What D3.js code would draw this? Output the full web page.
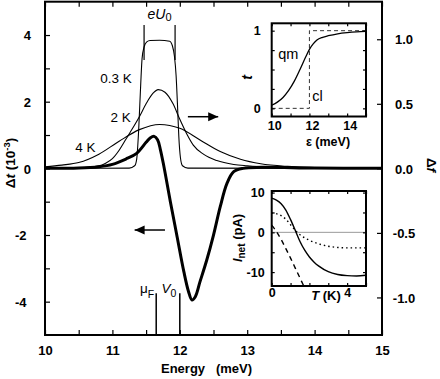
<!DOCTYPE html>
<html>
<head>
<meta charset="utf-8">
<script src="https://cdn.jsdelivr.net/npm/d3@7"></script>
<style>
    body { margin: 0; background: #fff; }
    svg text { font-family: "Liberation Sans", Arial, Helvetica, sans-serif; fill: #000; }
    .tick line { stroke: #000; stroke-width: 1.2; }
    .tick text { font-size: 13px; font-weight: bold; }
    .inset .tick text { font-size: 12.5px; }
</style>
</head>
<body>
<svg id="chart" width="440" height="379"></svg>
<script>
// ---- main panel: thin curves, delta f (right axis)
const energy03K = [10, 11.25, 11.33, 11.36, 11.39, 11.42, 11.44, 11.47, 11.51, 11.56, 11.7, 11.85, 11.89, 11.92, 11.945, 11.965, 11.985, 12.01, 12.04, 12.12, 15];
const df03K = [0, 0.002, 0.02, 0.07, 0.3, 0.65, 0.85, 0.94, 0.98, 0.99, 0.992, 0.985, 0.95, 0.87, 0.72, 0.5, 0.25, 0.08, 0.02, 0.002, 0];
const energy2K = [10, 10.5, 10.8, 10.9, 11.0, 11.1, 11.2, 11.3, 11.4, 11.5, 11.6, 11.68, 11.78, 11.9, 12.0, 12.1, 12.2, 12.35, 12.55, 12.8, 13.0, 13.5, 14, 15];
const df2K = [0.001, 0.005, 0.02, 0.04, 0.075, 0.14, 0.225, 0.31, 0.40, 0.50, 0.58, 0.61, 0.59, 0.50, 0.38, 0.27, 0.18, 0.11, 0.06, 0.03, 0.02, 0.008, 0.003, 0];
const energy4K = [10, 10.25, 10.5, 10.8, 11.1, 11.4, 11.7, 12.0, 12.3, 12.6, 12.9, 13.2, 13.6, 14, 14.5, 15];
const df4K = [0.012, 0.025, 0.045, 0.11, 0.21, 0.30, 0.34, 0.31, 0.22, 0.13, 0.07, 0.035, 0.015, 0.007, 0.003, 0.001];

// ---- main panel: thick curve, delta t (left axis, 10^-3)
const energyDt = [10, 10.5, 10.8, 11.0, 11.2, 11.36, 11.5, 11.56, 11.62, 11.67, 11.71, 11.76, 11.86, 11.96, 12.06, 12.13, 12.18, 12.23, 12.3, 12.4, 12.5, 12.6, 12.7, 12.8, 12.94, 13.2, 14, 15];
const deltaT = [0, 0.01, 0.05, 0.12, 0.28, 0.45, 0.78, 0.91, 0.96, 0.86, 0.58, 0.1, -1.0, -2.05, -3.1, -3.7, -3.95, -3.85, -3.4, -2.75, -2.0, -1.15, -0.45, -0.1, 0, 0.03, 0.01, 0];

// ---- marker energies
const eU0Edges = [11.47, 11.93];
const muF = 11.65;
const V0 = 12.0;

// ---- inset: transmission t(eps)
const epsQm = [10, 10.3, 10.6, 10.9, 11.2, 11.5, 11.8, 12.0, 12.2, 12.4, 12.7, 13.0, 13.5, 14, 14.5, 15];
const tQm = [0.04, 0.08, 0.14, 0.23, 0.35, 0.5, 0.66, 0.76, 0.83, 0.88, 0.915, 0.935, 0.96, 0.975, 0.985, 0.99];
const epsCl = [10, 12, 12, 15];
const tCl = [0, 0, 1, 1];

// ---- inset: net current vs T
const tempSolid = [0, 0.25, 0.5, 0.75, 1.0, 1.25, 1.5, 1.75, 2.0, 2.25, 2.5, 3.0, 3.5, 4.0, 4.5, 5];
const iSolid = [8.6, 8.1, 7.2, 5.6, 3.2, 0.5, -2.3, -4.5, -6.2, -7.5, -8.5, -9.9, -10.6, -10.9, -11.0, -10.8];
const tempDotted = [0, 0.5, 0.75, 1.0, 1.25, 1.5, 2.0, 2.5, 3.0, 3.5, 4.0, 5];
const iDotted = [4.9, 4.2, 3.3, 1.9, 0.5, -0.6, -2.0, -2.9, -3.5, -3.8, -3.9, -3.9];
const tempDashed = [0, 0.25, 0.5, 0.75, 1.0, 1.25, 1.5, 1.7];
const iDashed = [1.8, 0.2, -1.8, -4.1, -6.5, -9.0, -11.5, -13.5];

const zip = (xs, ys) => xs.map((x, i) => [x, ys[i]]);

const svg = d3.select('#chart');

// main scales
const x = d3.scaleLinear().domain([10, 15]).range([45, 382]);
const yLeft = d3.scaleLinear().domain([-5, 5]).range([335, 1.7]);
const yRight = d3.scaleLinear().domain([-1.291, 1.291]).range([335, 1.7]);

svg.append('defs').append('clipPath').attr('id', 'mainClip')
    .append('rect')
    .attr('x', 45).attr('y', 1.7).attr('width', 337).attr('height', 333.3);

const plot = svg.append('g').attr('clip-path', 'url(#mainClip)');

const lineRight = d3.line().x(d => x(d[0])).y(d => yRight(d[1])).curve(d3.curveMonotoneX);
const lineLeft = d3.line().x(d => x(d[0])).y(d => yLeft(d[1])).curve(d3.curveCatmullRom.alpha(0.5));

[[energy03K, df03K], [energy2K, df2K], [energy4K, df4K]].forEach(s => {
    plot.append('path')
        .attr('d', lineRight(zip(s[0], s[1])))
        .attr('fill', 'none')
        .attr('stroke', '#000')
        .attr('stroke-width', 1.1);
});

plot.append('path')
    .attr('d', lineLeft(zip(energyDt, deltaT)))
    .attr('fill', 'none')
    .attr('stroke', '#000')
    .attr('stroke-width', 3);

// eU0 window markers
plot.selectAll('.eu-line')
    .data(eU0Edges)
    .join('line')
    .attr('x1', d => x(d)).attr('x2', d => x(d))
    .attr('y1', yRight(1.11)).attr('y2', yRight(0.84))
    .attr('stroke', '#000').attr('stroke-width', 1.2)
    .classed('eu-line', true);

// mu_F and V0 markers
plot.selectAll('.mark-line')
    .data([muF, V0])
    .join('line')
    .attr('x1', d => x(d)).attr('x2', d => x(d))
    .attr('y1', yLeft(-3.75)).attr('y2', yLeft(-5))
    .attr('stroke', '#000').attr('stroke-width', 1.5)
    .classed('mark-line', true);

// axes
const xTicks = d3.range(10, 15.01, 0.5);
svg.append('g')
    .attr('transform', 'translate(0,335)')
    .call(d3.axisBottom(x).tickValues(xTicks).tickSize(-5).tickPadding(11)
        .tickFormat(d => Number.isInteger(d) ? d : ''))
    .call(g => g.select('.domain').remove());
svg.append('g')
    .attr('transform', 'translate(0,1.7)')
    .call(d3.axisTop(x).tickValues(xTicks).tickSize(-5).tickFormat(''))
    .call(g => g.select('.domain').remove());

svg.append('g')
    .attr('transform', 'translate(45,0)')
    .call(d3.axisLeft(yLeft).tickValues(d3.range(-4, 4.01, 1)).tickSize(-5).tickPadding(14)
        .tickFormat(d => d % 2 === 0 ? String(d) : ''))
    .call(g => g.select('.domain').remove())
    .call(g => g.selectAll('.tick text').attr('dy', '0.36em')
        .attr('x', d => d < 0 ? -18.5 : -14));

svg.append('g')
    .attr('transform', 'translate(382,0)')
    .call(d3.axisRight(yRight).tickValues([-1, -0.5, 0, 0.5, 1]).tickSize(-5)
        .tickFormat(d => d.toFixed(1)))
    .call(g => g.select('.domain').remove())
    .call(g => g.selectAll('.tick text').attr('text-anchor', 'middle').attr('x', 22).attr('dy', '0.36em'));

svg.append('rect')
    .attr('x', 45).attr('y', 1.7).attr('width', 337).attr('height', 333.3)
    .attr('fill', 'none').attr('stroke', '#000').attr('stroke-width', 2);

// axis titles
svg.append('text')
    .attr('x', 206.5).attr('y', 373)
    .attr('text-anchor', 'middle')
    .style('font-size', '13px').style('font-weight', 'bold')
    .style('white-space', 'pre')
    .text('Energy   (meV)');

const leftTitle = svg.append('text')
    .attr('transform', 'translate(15,163) rotate(-90)')
    .attr('text-anchor', 'middle')
    .style('font-size', '13.5px').style('font-weight', 'bold');
leftTitle.append('tspan').text('Δ');
leftTitle.append('tspan').style('font-style', 'italic').text('t');
leftTitle.append('tspan').text(' (10');
leftTitle.append('tspan').attr('dy', -5).style('font-size', '9.5px').text('-3');
leftTitle.append('tspan').attr('dy', 5).text(')');

const rightTitle = svg.append('text')
    .attr('transform', 'translate(427,165) rotate(90)')
    .attr('text-anchor', 'middle')
    .style('font-size', '13.5px').style('font-weight', 'bold');
rightTitle.append('tspan').text('Δ');
rightTitle.append('tspan').style('font-style', 'italic').text('f');

// curve labels
const tempLabels = [
    {text: '0.3 K', e: 10.82, y: 83},
    {text: '2 K', e: 10.97, y: 122},
    {text: '4 K', e: 10.45, y: 151.5}
];
svg.selectAll('.temp-label')
    .data(tempLabels)
    .join('text')
    .attr('x', d => x(d.e)).attr('y', d => d.y)
    .style('font-size', '13.5px')
    .text(d => d.text)
    .classed('temp-label', true);

const eu = svg.append('text')
    .attr('x', x(11.7)).attr('y', 18.5)
    .attr('text-anchor', 'middle')
    .style('font-size', '14px');
eu.append('tspan').style('font-style', 'italic').text('e');
eu.append('tspan').style('font-style', 'italic').text('U');
eu.append('tspan').attr('dy', 2.5).style('font-size', '11px').text('0');

const mu = svg.append('text')
    .attr('x', x(muF) - 2).attr('y', 293)
    .attr('text-anchor', 'end')
    .style('font-size', '13.5px');
mu.append('tspan').text('μ');
mu.append('tspan').attr('dy', 4.5).style('font-size', '10.5px').text('F');

const v0 = svg.append('text')
    .attr('x', x(V0) - 3.5).attr('y', 292.5)
    .attr('text-anchor', 'end')
    .style('font-size', '13.5px');
v0.append('tspan').style('font-style', 'italic').text('V');
v0.append('tspan').attr('dy', 4).style('font-size', '10.5px').text('0');

// arrows
function arrow(e0, e1, yv, dir)
{
    const x0 = x(e0), x1 = x(e1);
    const tip = dir > 0 ? x1 : x0;
    const base = tip - dir * 10;
    svg.append('line')
        .attr('x1', x0).attr('x2', x1).attr('y1', yv).attr('y2', yv)
        .attr('stroke', '#000').attr('stroke-width', 1.5);
    svg.append('path')
        .attr('d', `M${tip},${yv} L${base},${yv - 4.5} L${base},${yv + 4.5} Z`)
        .attr('fill', '#000');
}
arrow(12.12, 12.57, yRight(0.40), 1);
arrow(11.33, 11.78, yLeft(-1.85), -1);

// ---- inset 1: t(eps)
const inset1 = svg.append('g').classed('inset', true);
const xe = d3.scaleLinear().domain([10, 15]).range([271.7, 366]);
const yt = d3.scaleLinear().domain([-0.105, 1.095]).range([116.5, 23.3]);

inset1.append('rect')
    .attr('x', 271.7).attr('y', 23.3).attr('width', 94.3).attr('height', 93.2)
    .attr('fill', '#fff');

const dashLine = d3.line().x(d => xe(d[0])).y(d => yt(d[1]));
inset1.append('path')
    .attr('d', dashLine(zip(epsCl, tCl)))
    .attr('fill', 'none').attr('stroke', '#333').attr('stroke-width', 1)
    .attr('stroke-dasharray', '4,3');
inset1.append('path')
    .attr('d', d3.line().x(d => xe(d[0])).y(d => yt(d[1])).curve(d3.curveMonotoneX)(zip(epsQm, tQm)))
    .attr('fill', 'none').attr('stroke', '#000').attr('stroke-width', 1.3);

inset1.append('g')
    .attr('transform', 'translate(0,116.5)')
    .call(d3.axisBottom(xe).tickValues(d3.range(10, 15.01, 1)).tickSize(-3).tickPadding(5)
        .tickFormat(d => d % 2 === 0 ? d : ''))
    .call(g => g.select('.domain').remove())
    .call(g => g.selectAll('.tick text').attr('x', 2.5));
inset1.append('g')
    .attr('transform', 'translate(0,23.3)')
    .call(d3.axisTop(xe).tickValues(d3.range(10, 15.01, 1)).tickSize(-3).tickFormat(''))
    .call(g => g.select('.domain').remove());
inset1.append('g')
    .attr('transform', 'translate(271.7,0)')
    .call(d3.axisLeft(yt).tickValues([0, 0.25, 0.5, 0.75, 1]).tickSize(-3).tickPadding(11)
        .tickFormat(d => Number.isInteger(d) ? d : ''))
    .call(g => g.select('.domain').remove());
inset1.append('g')
    .attr('transform', 'translate(366,0)')
    .call(d3.axisRight(yt).tickValues([0, 0.25, 0.5, 0.75, 1]).tickSize(-3).tickFormat(''))
    .call(g => g.select('.domain').remove());
inset1.append('rect')
    .attr('x', 271.7).attr('y', 23.3).attr('width', 94.3).attr('height', 93.2)
    .attr('fill', 'none').attr('stroke', '#000').attr('stroke-width', 2);

inset1.append('text')
    .attr('transform', 'translate(251.5,77.5) rotate(-90)')
    .attr('text-anchor', 'middle')
    .style('font-size', '14px').style('font-weight', 'bold').style('font-style', 'italic')
    .text('t');
inset1.append('text')
    .attr('x', 328).attr('y', 146)
    .attr('text-anchor', 'middle')
    .style('font-size', '12.5px').style('font-weight', 'bold')
    .text('ε (meV)');
inset1.append('text')
    .attr('x', xe(10.35)).attr('y', 58.5)
    .style('font-size', '14.5px')
    .text('qm');
inset1.append('text')
    .attr('x', xe(12.15)).attr('y', 101)
    .style('font-size', '14.5px')
    .text('cl');

// ---- inset 2: I_net(T)
const inset2 = svg.append('g').classed('inset', true);
const xT = d3.scaleLinear().domain([0, 5]).range([271.7, 366]);
const yI = d3.scaleLinear().domain([-13.5, 10.4]).range([286, 191]);

svg.select('defs').append('clipPath').attr('id', 'inset2Clip')
    .append('rect')
    .attr('x', 271.7).attr('y', 191).attr('width', 94.3).attr('height', 95);

inset2.append('rect')
    .attr('x', 271.7).attr('y', 191).attr('width', 94.3).attr('height', 95)
    .attr('fill', '#fff');

const body2 = inset2.append('g').attr('clip-path', 'url(#inset2Clip)');
body2.append('line')
    .attr('x1', xT(0)).attr('x2', xT(5)).attr('y1', yI(0)).attr('y2', yI(0))
    .attr('stroke', '#999').attr('stroke-width', 1);

const lineI = d3.line().x(d => xT(d[0])).y(d => yI(d[1])).curve(d3.curveMonotoneX);
body2.append('path')
    .attr('d', lineI(zip(tempDotted, iDotted)))
    .attr('fill', 'none').attr('stroke', '#000').attr('stroke-width', 1.4)
    .attr('stroke-dasharray', '1.5,3');
body2.append('path')
    .attr('d', lineI(zip(tempDashed, iDashed)))
    .attr('fill', 'none').attr('stroke', '#000').attr('stroke-width', 1.4)
    .attr('stroke-dasharray', '5,4');
body2.append('path')
    .attr('d', lineI(zip(tempSolid, iSolid)))
    .attr('fill', 'none').attr('stroke', '#000').attr('stroke-width', 1.4);

inset2.append('g')
    .attr('transform', 'translate(0,286)')
    .call(d3.axisBottom(xT).tickValues(d3.range(0, 5.01, 1)).tickSize(-3).tickPadding(2)
        .tickFormat(d => d % 4 === 0 ? d : ''))
    .call(g => g.select('.domain').remove());
inset2.append('g')
    .attr('transform', 'translate(0,191)')
    .call(d3.axisTop(xT).tickValues(d3.range(0, 5.01, 1)).tickSize(-3).tickFormat(''))
    .call(g => g.select('.domain').remove());
inset2.append('g')
    .attr('transform', 'translate(271.7,0)')
    .call(d3.axisLeft(yI).tickValues([-10, -5, 0, 5, 10]).tickSize(-3).tickPadding(7)
        .tickFormat(d => d % 10 === 0 ? String(d) : ''))
    .call(g => g.select('.domain').remove());
inset2.append('g')
    .attr('transform', 'translate(366,0)')
    .call(d3.axisRight(yI).tickValues([-10, -5, 0, 5, 10]).tickSize(-3).tickFormat(''))
    .call(g => g.select('.domain').remove());
inset2.append('rect')
    .attr('x', 271.7).attr('y', 191).attr('width', 94.3).attr('height', 95)
    .attr('fill', 'none').attr('stroke', '#000').attr('stroke-width', 2);

const iTitle = inset2.append('text')
    .attr('transform', 'translate(242,238) rotate(-90)')
    .attr('text-anchor', 'middle')
    .style('font-size', '13px').style('font-weight', 'bold');
iTitle.append('tspan').style('font-style', 'italic').text('I');
iTitle.append('tspan').attr('dy', 3).style('font-size', '10px').text('net');
iTitle.append('tspan').attr('dy', -3).text(' (pA)');

const tTitle = inset2.append('text')
    .attr('x', 326).attr('y', 300)
    .attr('text-anchor', 'middle')
    .style('font-size', '13px').style('font-weight', 'bold');
tTitle.append('tspan').style('font-style', 'italic').text('T');
tTitle.append('tspan').text(' (K)');
</script>
</body>
</html>
